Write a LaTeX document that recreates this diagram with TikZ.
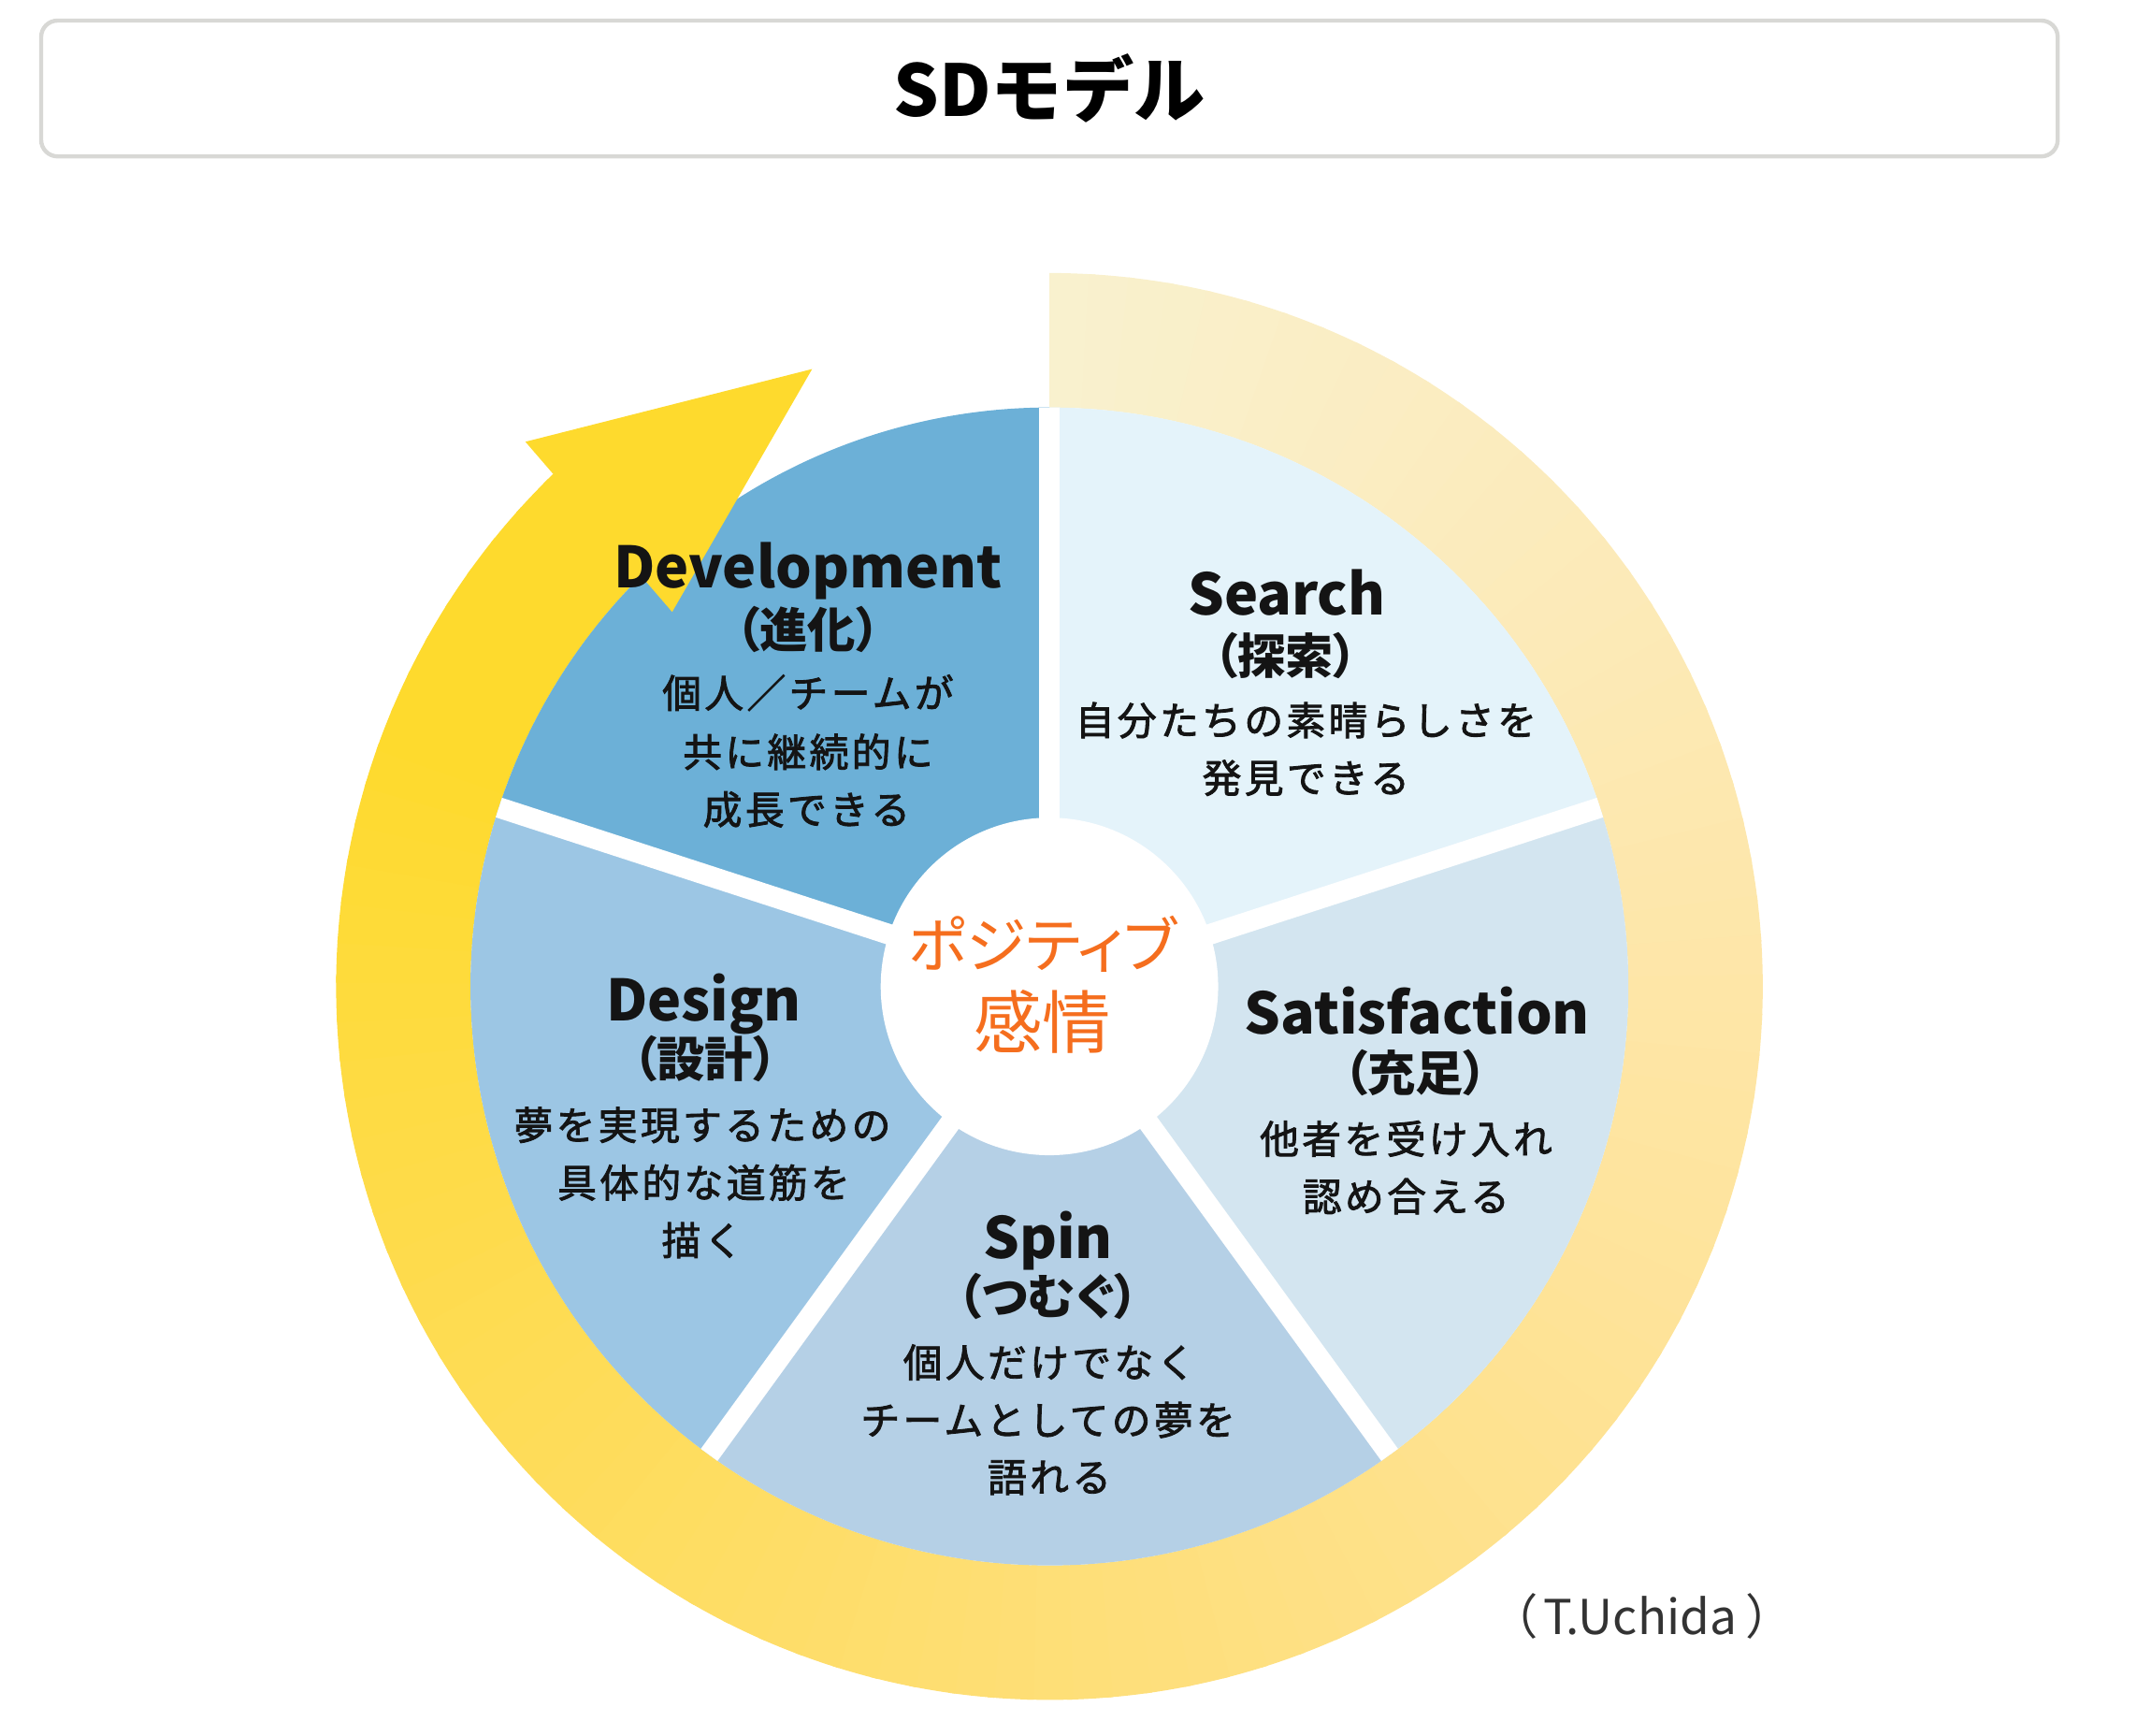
\documentclass[tikz,border=0pt]{standalone}
\usepackage{fontspec}
\setmainfont{Noto Sans CJK JP}
\newfontfamily\paltfont{Noto Sans CJK JP}[RawFeature={+palt}]
\newfontfamily\descfont{Noto Sans CJK JP}[LetterSpace=8, FakeBold=2]
\definecolor{cSearch}{RGB}{228,243,250}
\definecolor{cSatis}{RGB}{211,229,240}
\definecolor{cSpin}{RGB}{181,208,230}
\definecolor{cDesign}{RGB}{156,198,228}
\definecolor{cDevel}{RGB}{108,176,215}
\definecolor{arrowc}{RGB}{254,218,45}
\definecolor{boxgray}{RGB}{216,216,213}
\definecolor{posorange}{RGB}{245,110,30}
\definecolor{txt}{RGB}{20,20,20}
\begin{document}
\begin{tikzpicture}[x=1pt,y=1pt,
  titlebox/.style={draw=boxgray, line width=3pt, rounded corners=12pt, fill=white,
    minimum width=1470pt, minimum height=99pt, inner sep=0pt,
    font=\bfseries\fontsize{52}{56}\selectfont, text=black},
  lab/.style={font=\bfseries\fontsize{41.5}{46}\selectfont, text=txt, inner sep=0pt},
  sub/.style={font=\paltfont\bfseries\fontsize{35}{39}\selectfont, text=txt, inner sep=0pt},
  desc/.style={font=\descfont\fontsize{28.5}{32}\selectfont, text=txt, inner sep=0pt},
  core/.style={font=\paltfont\fontsize{#1}{52}\selectfont, text=posorange, inner sep=0pt},
  credit/.style={font=\paltfont\fontsize{35}{38}\selectfont, text=black!80, inner sep=0pt},
  gap/.style={white, line width=15pt}
]
\useasboundingbox (-765,-546) rectangle (803,719);

% title
\node[titlebox] (title) at (0,654.5) {SDモデル};

% gradient ring
\foreach \i in {0,...,99}{
  \pgfmathsetmacro\t{\i/99}
  \pgfmathsetmacro\aa{90-\i*3.18}
  \pgfmathsetmacro\ab{\aa-3.7}
  \pgfmathsetmacro\cr{min(254,249+17*\t)/255}
  \pgfmathsetmacro\cg{(241-45*\t+22*\t*\t)/255}
  \pgfmathsetmacro\cb{max(45,206-120*\t-60*\t*\t)/255}
  \definecolor{ringc}{rgb}{\cr,\cg,\cb}
  \fill[ringc] (\aa:422) arc[start angle=\aa, end angle=\ab, radius=422]
     -- (\ab:520) arc[start angle=\ab, end angle=\aa, radius=520] -- cycle;
}

% pie segments
\coordinate (O) at (0,0);
\fill[cSearch] (O) -- (90:422) arc[start angle=90, end angle=18, radius=422] -- cycle;
\fill[cSatis] (O) -- (18:422) arc[start angle=18, end angle=-54, radius=422] -- cycle;
\fill[cSpin] (O) -- (-54:422) arc[start angle=-54, end angle=-126, radius=422] -- cycle;
\fill[cDesign] (O) -- (-126:422) arc[start angle=-126, end angle=-198, radius=422] -- cycle;
\fill[cDevel] (O) -- (-198:422) arc[start angle=-198, end angle=-270, radius=422] -- cycle;

% gaps
\foreach \a in {90,18,-54,-126,-198}{
  \draw[gap] (O) -- (\a:422);
}
\fill[white] (O) circle[radius=123];

% arrow head
\coordinate (tip) at (-173,450);
\coordinate (barbout) at (-382,397);
\coordinate (barbin) at (-275,273);
\fill[arrowc] (tip) -- (barbout) -- (barbin) -- cycle;

% Development
\node[lab] (devL) at (-176,303) {Development};
\node[sub] (devS) at (-176,260.5) {（進化）};
\node[desc] (devD1) at (-176,214) {個人／チームが};
\node[desc] (devD2) at (-176,171) {共に継続的に};
\node[desc] (devD3) at (-177,129) {成長できる};

% Search
\node[lab] (seaL) at (173,287) {Search};
\node[sub] (seaS) at (172,241) {（探索）};
\node[desc] (seaD1) at (187,194) {自分たちの素晴らしさを};
\node[desc] (seaD2) at (187,152) {発見できる};

% Satisfaction
\node[lab] (satL) at (268,-18) {Satisfaction};
\node[sub] (satS) at (267,-63) {（充足）};
\node[desc] (satD1) at (260,-111) {他者を受け入れ};
\node[desc] (satD2) at (260,-153) {認め合える};

% Spin
\node[lab] (spiL) at (-1,-185) {Spin};
\node[sub] (spiS) at (-1,-226) {（つむぐ）};
\node[desc] (spiD1) at (0,-274) {個人だけでなく};
\node[desc] (spiD2) at (-1,-316) {チームとしての夢を};
\node[desc] (spiD3) at (0,-358) {語れる};

% Design
\node[lab] (desL) at (-252,-13) {Design};
\node[sub] (desS) at (-251,-53) {（設計）};
\node[desc] (desD1) at (-253,-101) {夢を実現するための};
\node[desc] (desD2) at (-252,-143) {具体的な道筋を};
\node[desc] (desD3) at (-253,-185) {描く};

% center
\node[core=44] (pos1) at (-5,31) {ポジティブ};
\node[core=50] (pos2) at (-5,-26) {感情};

% credit
\node[credit] (cred) at (432,-459) {（\kern5pt T.Uchida\kern8pt）};
\end{tikzpicture}
\end{document}
